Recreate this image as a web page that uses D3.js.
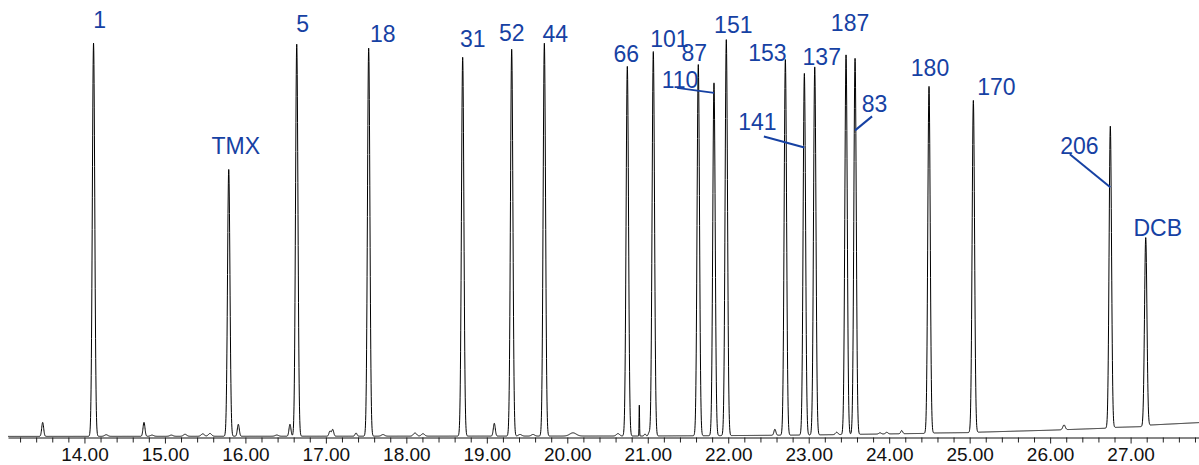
<!DOCTYPE html>
<html><head><meta charset="utf-8">
<script src="https://cdn.jsdelivr.net/npm/d3@7"></script>
<style>body{margin:0;background:#fff}svg{display:block}</style>
</head><body><svg id="c" width="1199" height="465"></svg>
<script>
// ---- data ----
const peakLabels  = ["1","TMX","5","18","31","52","44","66","101","87","110","151","153","141","137","187","83","180","170","206","DCB"];
const peakTimes   = [14.113,15.793,16.638,17.532,18.700,19.309,19.715,20.746,21.069,21.628,21.823,21.976,22.710,22.946,23.075,23.464,23.576,24.495,25.046,26.748,27.188];
const peakHeights = [98.3,66.7,98.0,97.0,94.7,96.7,98.2,92.4,96.1,92.8,88.2,99.0,93.9,90.4,92.0,94.9,94.0,86.7,83.0,75.4,47.1];

const minorTimes   = [13.481,14.27,14.74,14.84,15.08,15.25,15.47,15.56,15.912,16.39,16.554,17.051,17.085,17.375,17.71,18.108,18.207,19.093,19.413,19.574,20.071,20.63,20.895,20.966,21.016,22.58,23.348,23.886,23.97,24.156,26.173];
const minorHeights = [3.5,0.4,3.5,0.3,0.3,0.5,0.6,0.7,3.0,0.3,3.0,1.3,1.7,0.8,0.4,0.8,0.6,3.2,0.4,0.4,0.8,0.6,7.7,0.5,0.8,1.5,0.6,0.3,0.4,0.8,1.2];
const minorWidths  = [0.012,0.02,0.012,0.02,0.02,0.02,0.02,0.02,0.012,0.02,0.012,0.012,0.012,0.012,0.02,0.02,0.02,0.012,0.02,0.02,0.04,0.02,0.003,0.01,0.01,0.012,0.015,0.015,0.015,0.012,0.015];

const baselineTimes  = [13.05,21.0,22.0,23.0,24.45,24.55,25.0,25.1,26.0,26.7,26.8,27.15,27.25,27.85];
const baselineLevels = [0.15,0.25,0.35,0.5,0.9,1.0,1.1,1.2,1.7,2.2,2.4,2.6,3.0,3.6];

const tickValues = [14,15,16,17,18,19,20,21,22,23,24,25,26,27];
const timeRange  = [13.05, 27.85];
const mainWidth  = 0.015;

// ---- layout ----
const svg = d3.select("#c");
const x = d3.scaleLinear().domain(timeRange).range([8, 1199]);
const y = d3.scaleLinear().domain([0, 100]).range([437, 37]);
const base = d3.scaleLinear().domain(baselineTimes).range(baselineLevels).clamp(true);

function signal(t){
  let s = base(t);
  for (let i=0;i<peakTimes.length;i++){
    const d=(t-peakTimes[i])/mainWidth; if (Math.abs(d)<8) s += peakHeights[i]*Math.exp(-0.5*d*d);
  }
  for (let i=0;i<minorTimes.length;i++){
    const d=(t-minorTimes[i])/minorWidths[i]; if (Math.abs(d)<8) s += minorHeights[i]*Math.exp(-0.5*d*d);
  }
  return s;
}
let ts = d3.range(timeRange[0], timeRange[1], 0.002).concat(peakTimes, minorTimes, [timeRange[1]]);
ts.sort((a,b)=>a-b);
const pts = ts.map(t=>[t, signal(t)]);

svg.append("path").datum(pts)
  .attr("d", d3.line().x(d=>x(d[0])).y(d=>y(d[1])))
  .attr("fill","none").attr("stroke","#000").attr("stroke-width",1);

// axis
const axisY = 437.5;
const minor = d3.range(13.2, 27.85, 0.2).filter(v=>Math.abs(v-Math.round(v))>0.05);
svg.append("g").attr("transform",`translate(0,${axisY})`)
  .call(d3.axisBottom(x).tickValues(minor).tickSize(5).tickFormat("").tickSizeOuter(0))
  .call(g=>g.select(".domain").remove())
  .selectAll("line").attr("stroke","#222");
const ax = svg.append("g").attr("transform",`translate(0,${axisY})`)
  .call(d3.axisBottom(x).tickValues(tickValues).tickSize(6).tickPadding(4.5).tickFormat(d3.format(".2f")).tickSizeOuter(0));
ax.select(".domain").attr("stroke","#111");
ax.selectAll("line").attr("stroke","#222");
ax.selectAll("text").attr("font-family","Liberation Sans, Arial, sans-serif").attr("font-size",19).attr("fill","#111");

// peak labels: offsets relative to the peak apex (dx, dy) -- layout only
const labelOffsets = {
  "1":[6,-15],"TMX":[7,-15],"5":[6,-12],"18":[14,-6],"31":[10,-10],"52":[0,-8],"44":[11,-1.5],
  "66":[-1,-4],"101":[16,-5],"87":[-4,-4],"110":[-34,5],"151":[7,-7],"153":[-18,1],"141":[-47,57],
  "137":[7,-2],"187":[4,-24],"83":[19.5,54],"180":[1,-10],"170":[23,-5],"206":[-31,28],"DCB":[12,-1.6]
};
const leaders = { // [label-relative start dx,dy] -> [peak-relative end dy]
  "110":[[-3,0],10],"141":[[6.5,6],74],"83":[[-2.5,4],72],"206":[[-9.5,0],61]
};
const blue = "#1641a3";
const lbl = svg.append("g");
peakLabels.forEach((name,i)=>{
  const px = x(peakTimes[i]), py = y(peakHeights[i] + base(peakTimes[i]));
  const o = labelOffsets[name];
  const lx = px+o[0], ly = py+o[1];
  lbl.append("text").attr("x",lx).attr("y",ly).attr("text-anchor","middle")
    .attr("font-family","Liberation Sans, Arial, sans-serif").attr("font-size",23)
    .attr("fill",blue).text(name);
  if (leaders[name]){
    const L = leaders[name];
    lbl.append("line").attr("x1",lx+L[0][0]).attr("y1",ly+L[0][1])
      .attr("x2",px).attr("y2",py+L[1]).attr("stroke",blue).attr("stroke-width",2);
  }
});
</script></body></html>
